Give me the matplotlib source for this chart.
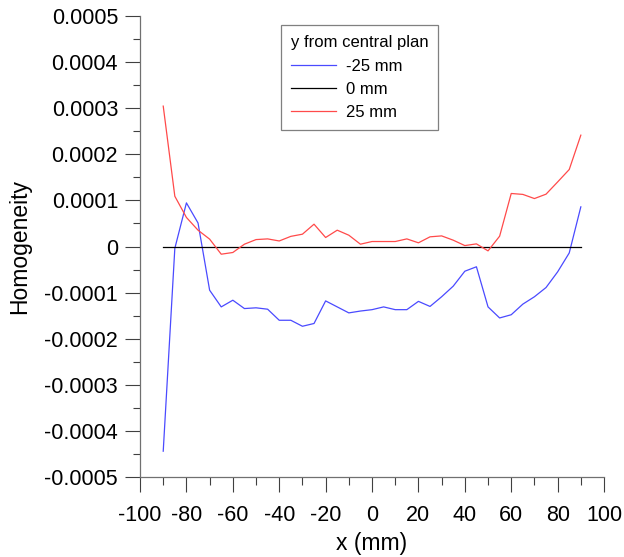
import matplotlib
matplotlib.use("Agg")
import matplotlib.pyplot as plt
from matplotlib.ticker import MultipleLocator, FuncFormatter

plt.rcParams['font.family'] = ['Liberation Sans', 'DejaVu Sans']
plt.rcParams['axes.unicode_minus'] = False

# Positions along x (mm)
x_mm = list(range(-90, 95, 5))

# Homogeneity at y = -25 mm
homog_m25 = [-4.44e-4, -0.04e-4, 0.946e-4, 0.51e-4, -0.948e-4, -1.31e-4, -1.165e-4,
             -1.346e-4, -1.33e-4, -1.36e-4, -1.60e-4, -1.60e-4, -1.73e-4, -1.67e-4,
             -1.18e-4, -1.31e-4, -1.44e-4, -1.40e-4, -1.37e-4, -1.31e-4, -1.37e-4,
             -1.37e-4, -1.19e-4, -1.30e-4, -1.09e-4, -0.86e-4, -0.536e-4, -0.44e-4,
             -1.31e-4, -1.55e-4, -1.48e-4, -1.25e-4, -1.09e-4, -0.89e-4, -0.55e-4,
             -0.14e-4, 0.86e-4]

# Homogeneity at y = 0 mm
homog_0 = [0.0] * len(x_mm)

# Homogeneity at y = +25 mm
homog_p25 = [3.045e-4, 1.09e-4, 0.63e-4, 0.354e-4, 0.16e-4, -0.167e-4, -0.13e-4,
             0.05e-4, 0.15e-4, 0.165e-4, 0.12e-4, 0.22e-4, 0.267e-4, 0.484e-4,
             0.195e-4, 0.354e-4, 0.245e-4, 0.05e-4, 0.108e-4, 0.108e-4, 0.108e-4,
             0.165e-4, 0.08e-4, 0.21e-4, 0.23e-4, 0.137e-4, 0.02e-4, 0.057e-4,
             -0.095e-4, 0.224e-4, 1.15e-4, 1.13e-4, 1.04e-4, 1.135e-4, 1.40e-4,
             1.67e-4, 2.415e-4]

series_labels = ["-25 mm", "0 mm", "25 mm"]
series_colors = ["#4a4aff", "#000000", "#ff4a4a"]

fig = plt.figure(figsize=(6.24, 5.57), dpi=100)
ax = fig.add_axes([0.2244, 0.1436, 0.7436, 0.8277])

for ys, lab, col in zip([homog_m25, homog_0, homog_p25], series_labels, series_colors):
    ax.plot(x_mm, ys, color=col, lw=0.9, label=lab)

ax.set_xlim(-100, 100)
ax.set_ylim(-0.0005, 0.0005)

ax.xaxis.set_major_locator(MultipleLocator(20))
ax.xaxis.set_minor_locator(MultipleLocator(10))
ax.yaxis.set_major_locator(MultipleLocator(0.0001))
ax.yaxis.set_minor_locator(MultipleLocator(0.00005))


def fmt_y(v, pos):
    v = round(v, 6)
    if v == 0:
        return "0"
    return f"{v:.4f}"


ax.yaxis.set_major_formatter(FuncFormatter(fmt_y))

for side in ("top", "right"):
    ax.spines[side].set_visible(False)
for side in ("left", "bottom"):
    ax.spines[side].set_color("#707070")
    ax.spines[side].set_linewidth(0.9)

ax.tick_params(which="major", direction="out", length=10.8, width=0.8,
               color="#404040", labelsize=15.5, pad=5)
ax.tick_params(which="minor", direction="out", length=5.4, width=0.8,
               color="#404040")
ax.tick_params(axis="x", which="major", pad=9)

ax.set_xlabel("x (mm)", fontsize=16.5)
ax.set_ylabel("Homogeneity", fontsize=16.5)
ax.xaxis.set_label_coords(0.5, -0.119)
ax.yaxis.set_label_coords(-0.235, 0.5)

leg = ax.legend(title="y from central plan", loc="upper left",
                bbox_to_anchor=(0.303, 0.98), borderaxespad=0,
                fontsize=12, title_fontsize=12,
                frameon=True, fancybox=False, edgecolor="#606060",
                handlelength=2.7, handletextpad=0.6, borderpad=0.6,
                labelspacing=0.5)
leg.get_frame().set_linewidth(0.9)
leg._legend_box.align = "left"

fig.savefig("out.png", dpi=100)
